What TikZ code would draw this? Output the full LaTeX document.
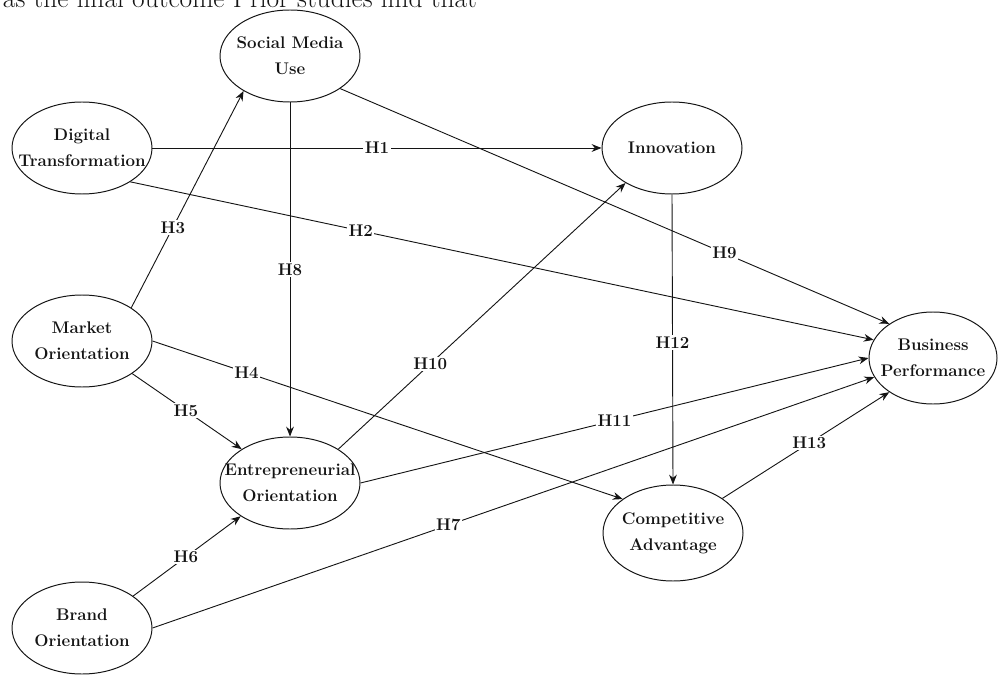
\documentclass[tikz,border=0pt]{standalone}
\usepackage{xcolor}
\usepackage{tikz}
\usetikzlibrary{positioning, arrows.meta, shapes.geometric}
\definecolor{model-ink}{HTML}{141414}

\begin{document}
\begin{tikzpicture}[x=0.025cm, y=-0.025cm,
        construct/.style={draw=model-ink, ellipse, line width=0.7pt, inner sep=0pt},
        ctext/.style={align=center, font=\bfseries\fontsize{12}{18.5}\selectfont, text=model-ink},
        link/.style={model-ink, line width=0.65pt, -{Stealth[length=7pt, width=5.5pt]}},
        hyp/.style={fill=white, inner sep=1pt, font=\bfseries\fontsize{12}{14}\selectfont, text=model-ink}]
        \useasboundingbox (0,0) rectangle (998,675);
        \clip (0,0) rectangle (998,675);
        \node[anchor=base west, font=\fontsize{19.5}{22}\selectfont, text=model-ink] (intro) at (-2,8)
            {as the final outcome Prior studies find that};
        \foreach \n/\x/\y/\w/\h/\t in {smu/290/56/140/92/{Social Media\\Use},
                dt/82/148/140/92/{Digital\\Transformation},
                mo/82/341/140/92/{Market\\Orientation},
                eo/290/483/140/92/{Entrepreneurial\\Orientation},
                bo/82/628/140/92/{Brand\\Orientation},
                inn/672/148/140/92/{Innovation},
                bp/933/358/128/92/{Business\\Performance},
                ca/673/533/140/96/{Competitive\\Advantage}} {
            \node[construct, minimum width=0.025cm*\w, minimum height=0.025cm*\h] (\n) at (\x,\y) {};
            \node[ctext] (\n-text) at (\n) {\t};
        }
        \foreach \a/\b/\p/\l in {dt.east/inn.west/0.5/H1, dt.-35/bp.163/0.31/H2,
                mo.34/smu.-143/0.37/H3, mo.east/ca.146/0.2/H4,
                mo.-33/eo.145/0.49/H5, bo.32/eo.-146/0.49/H6,
                bo.east/bp.-162/0.41/H7, smu.south/eo.north/0.5/H8,
                smu.-33/bp.142/0.7/H9, eo.35/inn.-143/0.32/H10,
                eo.east/bp.west/0.5/H11, inn.south/ca.north/0.51/H12,
                ca.35/bp.-142/0.52/H13} {
            \draw[link] (\a) -- node[hyp, pos=\p] (lbl-\l) {\l} (\b);
        }
    \end{tikzpicture}
\end{document}
